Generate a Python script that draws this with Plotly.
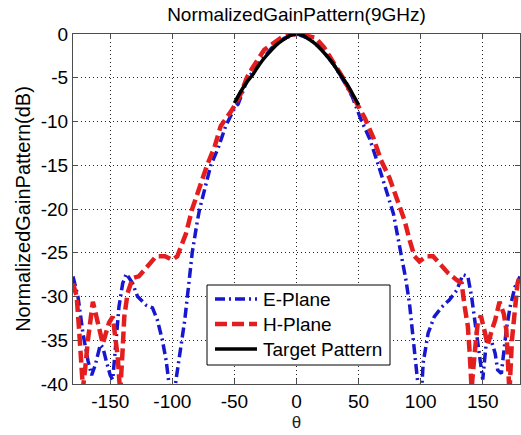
import plotly.graph_objects as go

# E-plane measured pattern (deg, dB)
e_theta = [-180, -176, -172, -168, -165, -162, -158, -156, -153, -150, -148, -145, -143, -140,
           -137, -132, -128, -121, -116, -112, -108, -105, -102, -100, -97, -94, -90, -87,
           -84, -80, -78, -69, -63, -57, -50, -47, -39, -35, -30, -20, -10, 0, 10, 20, 30,
           39, 45, 52, 59, 66, 72, 78, 84, 88, 91, 95, 98, 100, 102, 106, 111, 117, 123,
           129, 134, 138, 141, 143.5, 146, 148, 150, 153, 156, 160, 162, 165, 169, 172,
           176, 180]
e_gain = [-27.7, -30.0, -34.2, -37.3, -39.0, -37.8, -35.5, -35.8, -37.5, -39.0, -39.5, -34.6,
          -31.2, -28.5, -27.4, -28.5, -30.0, -31.0, -31.3, -32.7, -35.0, -37.3, -40.5, -43.0,
          -39.5, -36.5, -32.7, -28.9, -25.0, -21.5, -20.0, -15.0, -13.0, -10.5, -8.5, -8.0,
          -5.0, -4.3, -3.3, -1.6, -0.5, 0.0, -0.5, -1.7, -3.5, -5.6, -7.2, -9.8, -12.0,
          -15.0, -17.8, -20.5, -25.0, -28.0, -30.8, -36.5, -40.5, -43.0, -37.6, -34.2,
          -32.3, -31.2, -30.4, -29.3, -27.5, -27.7, -30.0, -32.7, -35.3, -38.0, -39.5,
          -35.0, -34.6, -36.5, -38.4, -38.8, -33.8, -31.2, -28.9, -27.7]

# H-plane measured pattern (deg, dB)
h_theta = [-180, -177, -175, -172, -170, -168, -164, -159, -156, -151, -148, -144, -142, -140,
           -138.7, -136, -132, -127, -120, -113, -106, -100, -96, -89, -84, -72, -66, -61,
           -52, -46, -40, -36, -26, -10, 0, 10, 15, 22, 29, 37, 45, 48, 55, 62, 68, 75, 82,
           87, 91, 95, 99, 104.6, 110, 115, 122, 129, 133, 135.5, 138, 139.5, 141, 143.5,
           146, 148.5, 151.5, 154, 157, 160, 163.5, 167, 169, 170.4, 171.5, 173.5, 175.8,
           178, 180]
h_gain = [-28.5, -30.0, -34.0, -40.5, -38.0, -35.0, -30.6, -33.4, -35.4, -33.0, -32.3, -36.9,
          -41.0, -36.0, -32.3, -29.6, -27.9, -27.7, -26.6, -25.4, -25.4, -25.8, -25.4, -22.8,
          -20.0, -15.0, -12.9, -10.5, -8.7, -7.2, -5.0, -4.0, -1.8, -0.2, 0.0, -0.2, -0.4,
          -1.5, -3.0, -4.9, -7.0, -7.8, -9.6, -11.9, -14.4, -16.5, -19.2, -21.3, -23.5,
          -25.4, -26.0, -25.4, -25.4, -26.2, -27.3, -28.1, -28.5, -31.2, -33.4, -36.5,
          -40.5, -36.5, -33.0, -32.2, -34.0, -35.5, -34.0, -32.7, -30.6, -32.0, -33.8,
          -38.0, -41.0, -35.0, -31.5, -28.5, -27.7]

# Target pattern over the main lobe (deg, dB)
t_theta = [-50, -45, -40, -35, -30, -25, -20, -15, -10, -5, 0, 5, 10, 15, 20, 25, 30, 35,
           40, 45, 50]
t_gain = [-7.9, -6.6, -5.5, -4.6, -3.5, -2.6, -1.8, -1.1, -0.6, -0.15, 0.0, -0.15, -0.6,
          -1.1, -1.8, -2.6, -3.5, -4.6, -5.6, -6.8, -8.1]

x_ticks = [-150, -100, -50, 0, 50, 100, 150]
x_tick_text = ["-150", "-100", "-50", "0", "50", "100", "150"]
y_ticks = [0, -5, -10, -15, -20, -25, -30, -35, -40]
y_tick_text = ["0", "-5", "-10", "-15", "-20", "-25", "-30", "-35", "-40"]

series_names = ["E-Plane", "H-Plane", "Target Pattern"]
series_colors = ["#1717cf", "#e41e1e", "black"]
series_widths = [3.5, 4.5, 3.5]
series_dashes = ["10px,4px,2px,4px", "12px,5px", "solid"]

FONT = "Liberation Sans, Arial, sans-serif"
W, H = 521, 435
ML, MR, MT, MB = 73, 1, 34, 51
PW, PH = W - ML - MR, H - MT - MB


def px_x(px):
    """Pixel column -> paper x."""
    return (px - ML) / PW


def px_y(py):
    """Pixel row -> paper y."""
    return (H - MB - py) / PH


fig = go.Figure()
for (th, g), name, col, wd, ds in zip([(e_theta, e_gain), (h_theta, h_gain), (t_theta, t_gain)],
                                      series_names, series_colors, series_widths, series_dashes):
    fig.add_trace(go.Scatter(x=th, y=g, mode="lines", name=name, showlegend=False,
                             line=dict(color=col, width=wd, dash=ds,
                                       shape="spline" if name == "Target Pattern" else "linear")))

axis_common = dict(
    showline=True, linecolor="#4d4d4d", linewidth=1, mirror="ticks",
    ticks="inside", ticklen=5, tickcolor="#4d4d4d",
    showgrid=True, gridcolor="#222222", gridwidth=1, griddash="1px,3px",
    zeroline=False, tickfont=dict(family=FONT, size=19, color="black"),
)

fig.update_xaxes(range=[-180, 180], tickvals=x_ticks, ticktext=x_tick_text,
                 title=dict(text="θ", font=dict(family=FONT, size=17, color="#222"), standoff=5),
                 **axis_common)
fig.update_yaxes(range=[-40, 0], tickvals=y_ticks, ticktext=y_tick_text,
                 title=dict(text="NormalizedGainPattern(dB)",
                            font=dict(family=FONT, size=20, color="black"), standoff=4),
                 **axis_common)

# Legend box with line samples and labels
shapes = [dict(type="rect", xref="paper", yref="paper",
               x0=px_x(207), x1=px_x(390), y0=px_y(365), y1=px_y(285),
               fillcolor="white", line=dict(color="black", width=1), layer="above")]
annotations = []
for i, (name, col, wd, ds) in enumerate(zip(series_names, series_colors,
                                           series_widths, series_dashes)):
    row = 299 + 25 * i
    shapes.append(dict(type="line", xref="paper", yref="paper",
                       x0=px_x(215), x1=px_x(257), y0=px_y(row), y1=px_y(row),
                       line=dict(color=col, width=wd, dash=ds), layer="above"))
    annotations.append(dict(text=name, xref="paper", yref="paper",
                            x=px_x(261), y=px_y(row), xanchor="left", yanchor="middle",
                            showarrow=False, font=dict(family=FONT, size=19, color="black")))

fig.update_layout(
    width=W, height=H,
    margin=dict(l=ML, r=MR, t=MT, b=MB),
    paper_bgcolor="white", plot_bgcolor="white",
    title=dict(text="NormalizedGainPattern(9GHz)", x=0.5, xref="paper",
               y=1 - 14 / H, yanchor="middle",
               font=dict(family=FONT, size=19, color="black")),
    shapes=shapes, annotations=annotations,
    showlegend=False,
)

fig.write_html("out.html")
